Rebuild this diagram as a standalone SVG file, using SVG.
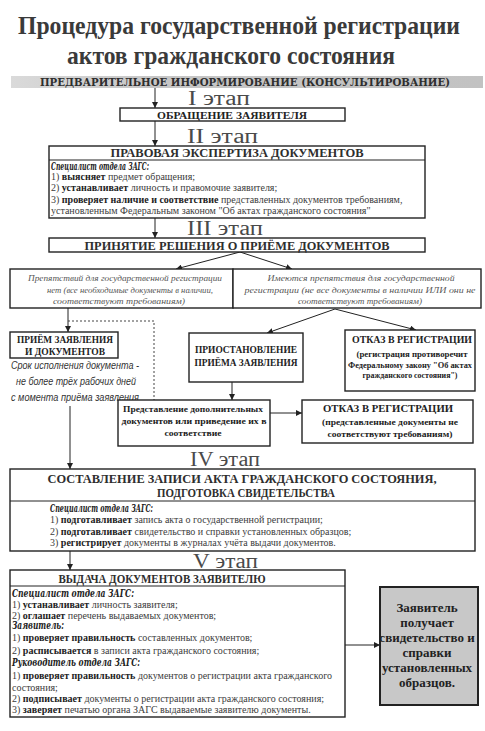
<svg xmlns="http://www.w3.org/2000/svg" width="485" height="731" viewBox="0 0 485 731" font-family="'Liberation Serif', 'Times New Roman', serif">
<defs>
<marker id="arr" markerWidth="6" markerHeight="6" refX="6" refY="3" orient="auto" markerUnits="userSpaceOnUse"><path d="M0,0 L6,3 L0,6 z" fill="#222"/></marker>
<linearGradient id="bar" x1="0" y1="0" x2="1" y2="0"><stop offset="0" stop-color="#dadada"/><stop offset="0.3" stop-color="#c6c6c6"/><stop offset="1" stop-color="#c2c2c2"/></linearGradient>
<style>
text{font-family:'Liberation Serif','Times New Roman','DejaVu Serif',serif;fill:#2e2e2e}
.title{font-size:25px;font-weight:bold;fill:#3a3a3a}
.stage{font-size:20px;fill:#4a4a4a}
.box{fill:#fff;stroke:#222;stroke-width:1.4}
.hb{font-size:11.5px;font-weight:bold}
.sm{font-size:10px;fill:#3c3c3c}
.md{font-size:10px;fill:#3c3c3c}
.b{font-weight:bold;fill:#222}
.bi{font-family:'DejaVu Serif','Liberation Serif',serif;font-weight:bold;font-style:italic;font-size:10.5px;fill:#222}
.it{font-style:italic;font-size:9px;fill:#555}
.hand{font-family:'Liberation Sans','DejaVu Sans',sans-serif;font-style:italic;font-size:11px;fill:#333}
.c{text-anchor:middle}
.ln{stroke:#222;stroke-width:1;fill:none}
.dot{stroke:#444;stroke-width:1;stroke-dasharray:2,2;fill:none}
</style>
</defs>
<rect width="485" height="731" fill="#fff"/>

<g id="title">
<text class="title c" x="239" y="34" textLength="442" lengthAdjust="spacingAndGlyphs">Процедура государственной регистрации</text>
<text class="title c" x="231" y="64" textLength="328" lengthAdjust="spacingAndGlyphs">актов гражданского состояния</text>
</g>

<g id="pre">
<rect x="11" y="76" width="472" height="12" fill="url(#bar)"/>
<text x="40" y="85.5" font-size="10.5" style="font-family:'DejaVu Serif',serif;font-weight:bold" textLength="410" lengthAdjust="spacingAndGlyphs">ПРЕДВАРИТЕЛЬНОЕ ИНФОРМИРОВАНИЕ (КОНСУЛЬТИРОВАНИЕ)</text>
</g>

<g id="stages">
<text class="stage" x="188" y="105" textLength="62" lengthAdjust="spacingAndGlyphs">I этап</text>
<text class="stage" x="187" y="143" textLength="71" lengthAdjust="spacingAndGlyphs">II этап</text>
<text class="stage" x="187" y="235" textLength="76" lengthAdjust="spacingAndGlyphs">III этап</text>
<text class="stage" x="190" y="466" textLength="70" lengthAdjust="spacingAndGlyphs">IV этап</text>
<text class="stage" x="193" y="568" textLength="65" lengthAdjust="spacingAndGlyphs">V этап</text>
</g>

<g id="connectors">
<line class="ln" x1="155" y1="88" x2="155" y2="108" marker-end="url(#arr)"/>
<line class="ln" x1="155" y1="121" x2="155" y2="146" marker-end="url(#arr)"/>
<line class="ln" x1="155" y1="218" x2="155" y2="238" marker-end="url(#arr)"/>
<line class="ln" x1="240" y1="252" x2="176" y2="269" marker-end="url(#arr)"/>
<line class="ln" x1="240" y1="252" x2="292" y2="269" marker-end="url(#arr)"/>
<line class="ln" x1="68" y1="308" x2="68" y2="332" marker-end="url(#arr)"/>
<polyline class="dot" points="68,321 154,321 154,400"/>
<line class="ln" x1="335" y1="309" x2="267" y2="333" marker-end="url(#arr)"/>
<line class="ln" x1="335" y1="309" x2="416" y2="330" marker-end="url(#arr)"/>
<line class="ln" x1="232" y1="382" x2="232" y2="400" marker-end="url(#arr)"/>
<line class="ln" x1="270" y1="413" x2="302" y2="413" marker-end="url(#arr)"/>
<line class="ln" x1="70" y1="406" x2="70" y2="469" marker-end="url(#arr)"/>
<line class="ln" x1="70" y1="551" x2="70" y2="570" marker-end="url(#arr)"/>
<line class="ln" x1="345" y1="645" x2="380" y2="645" marker-end="url(#arr)"/>
</g>

<g id="n1">
<rect class="box" x="120" y="108" width="225" height="13"/>
<text class="c b" x="232" y="118.5" font-size="9.5" textLength="150" lengthAdjust="spacingAndGlyphs">ОБРАЩЕНИЕ ЗАЯВИТЕЛЯ</text>
</g>

<g id="n2">
<rect class="box" x="49" y="146" width="376" height="72"/>
<line class="ln" x1="49" y1="160" x2="425" y2="160"/>
<text class="hb c" x="237" y="157" style="font-weight:600" textLength="253" lengthAdjust="spacingAndGlyphs">ПРАВОВАЯ ЭКСПЕРТИЗА ДОКУМЕНТОВ</text>
<text class="bi" x="51" y="169.5" textLength="98" lengthAdjust="spacingAndGlyphs">Специалист отдела ЗАГС:</text>
<text class="sm" x="51" y="180">1) <tspan class="b">выясняет</tspan> предмет обращения;</text>
<text class="sm" x="51" y="191">2) <tspan class="b">устанавливает</tspan> личность и правомочие заявителя;</text>
<text class="sm" x="51" y="202.5">3) <tspan class="b">проверяет наличие и соответствие</tspan> представленных документов требованиям,</text>
<text class="sm" x="51" y="213.5">установленным Федеральным законом "Об актах гражданского состояния"</text>
</g>

<g id="n3">
<rect class="box" x="49" y="238" width="376" height="14"/>
<text class="hb c" x="237" y="249.5" textLength="305" lengthAdjust="spacingAndGlyphs">ПРИНЯТИЕ РЕШЕНИЯ О ПРИЁМЕ ДОКУМЕНТОВ</text>
</g>

<g id="n4">
<rect class="box" x="10" y="269" width="223" height="39"/>
<text class="it c" x="125" y="281" textLength="194" lengthAdjust="spacingAndGlyphs">Препятствий для государственной регистрации</text>
<text class="it c" x="130" y="292.5" textLength="166" lengthAdjust="spacingAndGlyphs">нет (все необходимые документы в наличии,</text>
<text class="it c" x="119" y="304" textLength="132" lengthAdjust="spacingAndGlyphs">соответствуют требованиям)</text>
</g>

<g id="n5">
<rect class="box" x="233" y="269" width="248" height="39"/>
<text class="it c" x="361" y="281" textLength="187" lengthAdjust="spacingAndGlyphs">Имеются препятствия для государственной</text>
<text class="it c" x="360" y="292.5" textLength="231" lengthAdjust="spacingAndGlyphs">регистрации (не все документы в наличии ИЛИ они не</text>
<text class="it c" x="360" y="304" textLength="124" lengthAdjust="spacingAndGlyphs">соответствуют требованиям)</text>
</g>

<g id="n6">
<rect class="box" x="10" y="332" width="108" height="26" stroke-width="2"/>
<text class="c b" x="65" y="343" font-size="10" textLength="96" lengthAdjust="spacingAndGlyphs">ПРИЁМ ЗАЯВЛЕНИЯ</text>
<text class="c b" x="65" y="354.5" font-size="10" textLength="80" lengthAdjust="spacingAndGlyphs">И ДОКУМЕНТОВ</text>
</g>

<g id="n7">
<text class="hand c" x="75" y="369" textLength="128" lengthAdjust="spacingAndGlyphs">Срок исполнения документа -</text>
<text class="hand c" x="76" y="385" textLength="120" lengthAdjust="spacingAndGlyphs">не более трёх рабочих дней</text>
<text class="hand c" x="75" y="401" textLength="128" lengthAdjust="spacingAndGlyphs">с момента приёма заявления</text>
</g>

<g id="n8">
<rect class="box" x="189" y="333" width="114" height="49"/>
<text class="c b" x="246" y="353" font-size="10" textLength="102" lengthAdjust="spacingAndGlyphs">ПРИОСТАНОВЛЕНИЕ</text>
<text class="c b" x="246" y="366" font-size="10" textLength="103" lengthAdjust="spacingAndGlyphs">ПРИЁМА ЗАЯВЛЕНИЯ</text>
</g>

<g id="n9">
<rect class="box" x="345" y="330" width="130" height="61"/>
<text class="c b" x="412" y="343" font-size="10" textLength="120" lengthAdjust="spacingAndGlyphs">ОТКАЗ В РЕГИСТРАЦИИ</text>
<text class="c b" x="412" y="357" font-size="9" textLength="111" lengthAdjust="spacingAndGlyphs">(регистрация противоречит</text>
<text class="c b" x="410" y="367.5" font-size="9" textLength="124" lengthAdjust="spacingAndGlyphs">Федеральному закону "Об актах</text>
<text class="c b" x="410" y="378" font-size="8.5" textLength="95" lengthAdjust="spacingAndGlyphs">гражданского состояния")</text>
</g>

<g id="n10">
<rect class="box" x="118" y="400" width="152" height="46"/>
<text class="c b" x="193" y="412" font-size="9" textLength="140" lengthAdjust="spacingAndGlyphs">Представление дополнительных</text>
<text class="c b" x="194" y="424" font-size="9" textLength="145" lengthAdjust="spacingAndGlyphs">документов или приведение их в</text>
<text class="c b" x="193" y="436" font-size="9" textLength="57" lengthAdjust="spacingAndGlyphs">соответствие</text>
</g>

<g id="n11">
<rect class="box" x="302" y="400" width="171" height="43"/>
<text class="c b" x="388" y="412" font-size="10" textLength="130" lengthAdjust="spacingAndGlyphs">ОТКАЗ В РЕГИСТРАЦИИ</text>
<text class="c b" x="390" y="425" font-size="9" textLength="136" lengthAdjust="spacingAndGlyphs">(представленные документы не</text>
<text class="c b" x="390" y="436.5" font-size="9" textLength="125" lengthAdjust="spacingAndGlyphs">соответствуют требованиям)</text>
</g>

<g id="n12">
<rect class="box" x="10" y="469" width="465" height="82"/>
<line class="ln" x1="10" y1="501" x2="475" y2="501"/>
<text class="hb c" x="242" y="483" textLength="389" lengthAdjust="spacingAndGlyphs">СОСТАВЛЕНИЕ ЗАПИСИ АКТА ГРАЖДАНСКОГО СОСТОЯНИЯ,</text>
<text class="hb c" x="246" y="497" textLength="178" lengthAdjust="spacingAndGlyphs">ПОДГОТОВКА СВИДЕТЕЛЬСТВА</text>
<text class="bi" x="50" y="511.5" textLength="103" lengthAdjust="spacingAndGlyphs">Специалист отдела ЗАГС:</text>
<text class="sm" x="50" y="523">1) <tspan class="b">подготавливает</tspan> запись акта о государственной регистрации;</text>
<text class="sm" x="50" y="534.5">2) <tspan class="b">подготавливает</tspan> свидетельство и справки установленных образцов;</text>
<text class="sm" x="50" y="546">3) <tspan class="b">регистрирует</tspan> документы в журналах учёта выдачи документов.</text>
</g>

<g id="n13">
<rect class="box" x="10" y="570" width="335" height="147"/>
<line class="ln" x1="10" y1="586" x2="345" y2="586"/>
<text class="hb c" x="162" y="582.5" textLength="207" lengthAdjust="spacingAndGlyphs">ВЫДАЧА ДОКУМЕНТОВ ЗАЯВИТЕЛЮ</text>
<text class="bi" x="12" y="597" font-size="12" textLength="122" lengthAdjust="spacingAndGlyphs">Специалист отдела ЗАГС:</text>
<text class="md" x="12" y="608">1) <tspan class="b">устанавливает</tspan> личность заявителя;</text>
<text class="md" x="12" y="618.5">2) <tspan class="b">оглашает</tspan> перечень выдаваемых документов;</text>
<text class="bi" x="12" y="629" font-size="12" textLength="52" lengthAdjust="spacingAndGlyphs">Заявитель:</text>
<text class="md" x="12" y="641">1) <tspan class="b">проверяет правильность</tspan> составленных документов;</text>
<text class="md" x="12" y="653.5">2) <tspan class="b">расписывается</tspan> в записи акта гражданского состояния;</text>
<text class="bi" x="12" y="666" font-size="12" textLength="128" lengthAdjust="spacingAndGlyphs">Руководитель отдела ЗАГС:</text>
<text class="md" x="12" y="678.5">1) <tspan class="b">проверяет правильность</tspan> документов о регистрации акта гражданского</text>
<text class="md" x="12" y="690.5">состояния;</text>
<text class="md" x="12" y="702">2) <tspan class="b">подписывает</tspan> документы о регистрации акта гражданского состояния;</text>
<text class="md" x="12" y="713">3) <tspan class="b">заверяет</tspan> печатью органа ЗАГС выдаваемые заявителю документы.</text>
</g>

<g id="n14">
<rect x="380" y="587" width="98" height="118" fill="#c8c8c8" stroke="#222" stroke-width="2"/>
<text class="c b" x="427" y="612" font-size="13">Заявитель</text>
<text class="c b" x="427" y="627" font-size="13">получает</text>
<text class="c b" x="427" y="642" font-size="13">свидетельство и</text>
<text class="c b" x="427" y="657" font-size="13">справки</text>
<text class="c b" x="427" y="672" font-size="13">установленных</text>
<text class="c b" x="427" y="687" font-size="13">образцов.</text>
</g>
</svg>
